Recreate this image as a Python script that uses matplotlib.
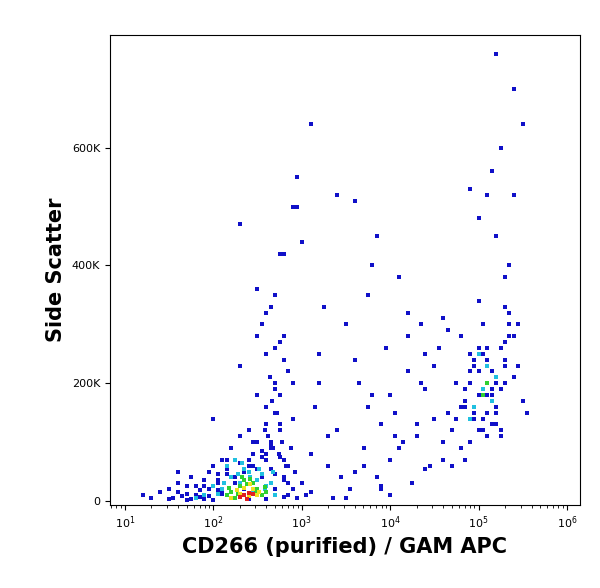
import matplotlib
matplotlib.use("Agg")
import matplotlib.pyplot as plt

# points as (log10 CD266, side scatter in K)
blue_lx = [1.2,1.3,1.4,1.5,1.55,1.6,1.65,1.7,1.75,1.8,1.85,1.9,1.95,2.0,2.05,2.1,2.15,2.2,2.25,2.3,2.35,2.4,2.45,2.5,2.55,2.6,2.65,2.7,2.75,2.8,2.85,2.9,
           1.5,1.7,1.8,1.9,2.0,2.1,2.2,2.3,2.4,2.5,2.6,2.7,2.8,1.6,1.9,2.05,2.15,2.35,2.45,2.55,2.65,2.75,2.85,2.0,2.2,2.4,2.6,2.7,2.8,2.5,2.65,2.75,2.9,2.6,2.7,2.8,2.55,2.85,
           2.3,2.5,2.6,2.7,2.9,2.95,2.8,2.65,2.75,
           3.0,3.05,3.1,3.15,3.2,3.3,3.35,3.4,3.5,3.55,3.6,3.65,3.7,3.75,3.8,3.85,3.9,3.95,4.0,4.05,4.1,4.15,4.2,4.25,4.3,4.35,4.4,4.45,4.5,4.55,4.6,
           3.1,3.2,3.3,3.45,3.6,3.7,3.8,3.9,4.0,4.1,4.2,4.3,4.4,4.5,4.6,3.25,3.5,3.75,4.05,4.35,4.65,3.4,3.9,4.2,4.4,3.0,3.6,4.0,
           4.7,4.75,4.8,4.85,4.9,4.95,5.0,5.05,5.1,5.15,5.2,5.25,5.3,5.35,5.4,5.45,5.5,5.55,
           4.7,4.8,4.9,5.0,5.1,5.2,5.3,5.4,4.75,4.85,4.95,5.05,5.15,5.25,5.35,4.8,4.9,5.0,5.1,5.2,5.3,4.85,4.95,5.05,5.15,5.25,
           5.0,5.1,5.2,5.3,5.35,5.25,5.15,5.4,5.5,4.9,5.3,5.35,5.45,5.2,5.4,4.6,4.65,
           3.1,3.6,3.85,2.3,2.75,2.95,2.5,
           1.6,1.7,1.75,1.85,1.95,2.05,2.1,2.25,2.3,2.4,2.5,2.6,2.7,2.8,2.85,2.9,2.95,2.45,2.55,2.65,2.75,2.35,2.15,2.05,1.95,
           2.62,2.68,2.72,2.78,2.82,2.58,2.66,2.74,2.7,2.76,2.64,2.8,2.88,2.92,2.6,
           4.9,4.95,5.0,5.05,5.1,5.15,5.2,5.25,5.0,5.1,5.2,4.85,5.3,5.05,5.15]
blue_y = [10,5,15,20,5,30,8,12,40,25,6,35,50,60,18,70,45,90,30,110,20,60,80,100,40,130,55,150,120,70,30,140,
          3,2,10,4,2,15,5,8,3,12,4,20,6,50,25,35,55,50,100,75,90,180,60,140,40,120,160,200,240,180,100,130,200,250,260,280,300,220,
          230,280,320,350,500,550,420,330,270,
          30,10,80,160,250,60,5,120,300,20,50,200,90,350,180,40,130,260,70,150,380,100,220,30,110,300,190,60,140,260,100,
          15,200,110,40,240,60,400,20,180,90,280,130,55,230,70,330,5,160,110,200,150,520,25,320,250,440,240,10,
          120,200,90,160,250,140,180,300,110,220,150,260,200,320,280,230,170,150,
          60,280,100,340,180,130,240,210,140,70,230,120,190,110,300,160,220,260,150,200,270,190,240,250,170,120,
          480,520,450,380,400,600,560,700,640,530,330,280,300,760,520,310,290,
          640,510,450,470,420,500,360,
          15,25,3,18,8,30,12,40,65,70,55,80,45,35,10,20,5,60,85,95,75,50,70,45,20,
          110,90,150,100,60,120,170,80,190,130,210,40,90,50,70,
          200,150,220,180,240,130,160,190,120,260,210,170,230,140,180]

cyan_lx = [2.1,2.2,2.3,2.4,2.5,2.6,2.15,2.35,2.45,2.55,2.65,1.9,2.0,1.8,2.7,2.25,4.95,5.05,5.1,5.2,4.9,5.15,5.0,2.05,2.12,2.28,2.42,2.58,2.68,2.52,2.32]
cyan_y  = [20,40,30,50,35,25,60,55,15,45,30,10,25,5,10,70,160,190,230,210,140,170,250,12,30,45,40,20,50,55,65]
green_lx = [2.2,2.3,2.4,2.5,2.35,2.45,2.55,2.25,2.6,2.15,5.05,5.1,2.18,2.28,2.38,2.48,2.58,2.42,2.33]
green_y  = [15,25,10,20,35,30,10,5,15,10,180,200,22,12,28,14,24,38,40]
yellow_lx = [2.3,2.4,2.45,2.35,2.5,2.2,2.27,2.52,2.42]
yellow_y  = [12,8,20,22,10,5,18,16,28]
red_lx = [2.35,2.4,2.3,2.38,2.45]
red_y = [10,14,6,4,12]

fig = plt.figure(figsize=(6.0, 5.88), dpi=100)
ax = fig.add_axes([0.183, 0.141, 0.784, 0.8])
for lx, y, c in [(blue_lx, blue_y, "#1010c8"), (cyan_lx, cyan_y, "#20c0e0"),
                 (green_lx, green_y, "#30d030"), (yellow_lx, yellow_y, "#f0e020"),
                 (red_lx, red_y, "#e02020")]:
    pairs = list(zip(lx, y))
    ax.scatter([10 ** a for a, b in pairs], [b * 1000 for a, b in pairs], s=5, marker="s", c=c, linewidths=0)
ax.set_xscale("log")
ax.set_xlim(10 ** 0.83, 10 ** 6.15)
ax.set_ylim(-7000, 792000)
ax.set_yticks([0, 200000, 400000, 600000])
ax.set_yticklabels(["0", "200K", "400K", "600K"], fontsize=8)
ax.tick_params(axis="x", labelsize=8)
ax.set_xlabel("CD266 (purified) / GAM APC", fontsize=15, fontweight="bold")
ax.set_ylabel("Side Scatter", fontsize=15, fontweight="bold")
fig.savefig("out.png")
